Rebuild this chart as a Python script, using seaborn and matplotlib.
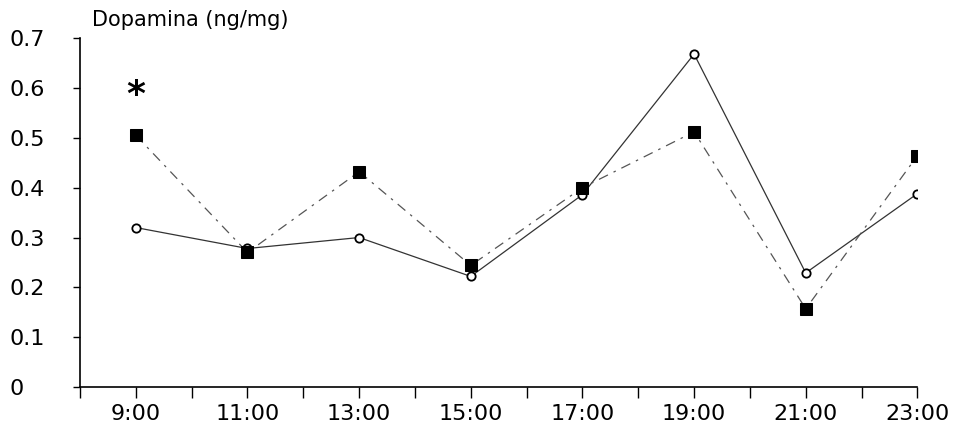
import matplotlib
matplotlib.use("Agg")
import matplotlib.pyplot as plt
import seaborn as sns
import pandas as pd

hours = [9, 11, 13, 15, 17, 19, 21, 23]
hour_labels = ["9:00", "11:00", "13:00", "15:00", "17:00", "19:00", "21:00", "23:00"]
squares = [0.505, 0.27, 0.432, 0.244, 0.40, 0.512, 0.157, 0.464]
circles = [0.32, 0.278, 0.30, 0.222, 0.386, 0.668, 0.229, 0.388]
y_ticks = [0, 0.1, 0.2, 0.3, 0.4, 0.5, 0.6, 0.7]
y_tick_labels = ["0", "0.1", "0.2", "0.3", "0.4", "0.5", "0.6", "0.7"]
star_hour, star_value = 9, 0.585

sns.set_theme(style="white")
plt.rcParams["font.family"] = ["DejaVu Sans"]
plt.rcParams["text.color"] = "black"

df_sq = pd.DataFrame({"hora": hours, "valor": squares})
df_ci = pd.DataFrame({"hora": hours, "valor": circles})

fig = plt.figure(figsize=(9.57, 4.33), dpi=100)
ax = fig.add_axes([0.0836, 0.106, 0.875, 0.806])

sns.lineplot(data=df_ci, x="hora", y="valor", ax=ax, color="#333333", lw=0.9,
             marker="o", markersize=6, markerfacecolor="white",
             markeredgecolor="black", markeredgewidth=1.3, zorder=3)
sns.lineplot(data=df_sq, x="hora", y="valor", ax=ax, color="#555555", lw=0.9,
             linestyle=(0, (8, 5, 2, 5)),
             marker="s", markersize=8, markerfacecolor="black",
             markeredgecolor="black", zorder=4)

ax.text(star_hour, star_value, "*", ha="center", va="center", fontsize=26,
        color="black", fontweight="bold")

ax.set_xlim(8, 23)
ax.set_ylim(0, 0.7)
all_hours = list(range(8, 24))
ax.set_xticks(all_hours)
ax.set_xticklabels([hour_labels[hours.index(h)] if h in hours else "" for h in all_hours])
ax.set_yticks(y_ticks)
ax.set_yticklabels(y_tick_labels)
ax.tick_params(axis="x", direction="out", length=8, width=1, colors="black",
               labelsize=16, pad=4, bottom=True)
ax.tick_params(axis="y", direction="out", length=5, width=1, colors="black",
               labelsize=16, left=True)
for lab in ax.get_yticklabels():
    lab.set_horizontalalignment("left")
ax.yaxis.set_tick_params(pad=46)

ax.set_xlabel("")
ax.set_ylabel("")
sns.despine(ax=ax)
ax.spines["left"].set_color("black")
ax.spines["bottom"].set_color("black")
ax.spines["left"].set_linewidth(1.2)
ax.spines["bottom"].set_linewidth(1.2)
ax.grid(False)

fig.text(0.096, 0.93, "Dopamina (ng/mg)", fontsize=15, ha="left", va="bottom",
         color="black")

fig.savefig("out.png", dpi=100)
